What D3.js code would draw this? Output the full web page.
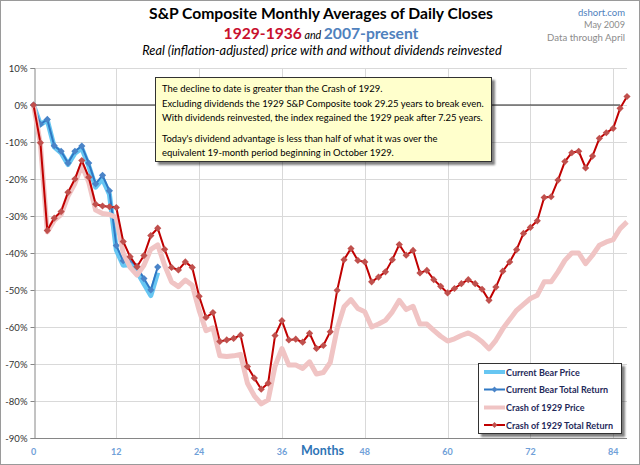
<!DOCTYPE html>
<html><head><meta charset="utf-8">
<script src="https://cdn.jsdelivr.net/npm/d3@7"></script>
<style>body{margin:0;background:#fff}svg{display:block}text{font-family:Lato,"Open Sans",sans-serif}</style>
</head><body>
<script>
// ---- data ----
const months = d3.range(0, 87);
const bearMonths = d3.range(0, 19);
const crashTotalReturn = [0,-10.2,-33.9,-30.6,-28.8,-23.6,-20.0,-15.0,-19.5,-26.8,-27.3,-27.5,-27.7,-36.9,-41.0,-43.7,-40.7,-35.3,-33.3,-39.0,-43.9,-44.6,-42.4,-43.9,-51.7,-57.4,-56.1,-63.9,-63.5,-63.1,-62.2,-70.7,-73.8,-76.8,-75.2,-62.3,-58.3,-63.5,-63.3,-64.1,-61.7,-65.8,-65.0,-61.3,-50.1,-41.8,-38.8,-42.0,-42.4,-47.8,-46.5,-45.1,-41.8,-37.7,-40.6,-39.3,-45.4,-44.7,-47.2,-49.0,-50.8,-49.6,-48.3,-47.2,-48.3,-49.8,-52.8,-49.2,-44.9,-42.4,-39.1,-34.7,-33.1,-31.3,-25.0,-24.8,-20.3,-15.3,-12.9,-12.5,-17.0,-13.8,-9.0,-7.5,-6.3,-0.9,2.3];
const crashPrice = [0,-10.5,-34.3,-31.2,-29.6,-24.6,-21.2,-16.3,-20.8,-28.4,-29.3,-29.6,-30.4,-40.0,-43.9,-46.0,-43.3,-39.0,-37.8,-43.3,-47.8,-49.1,-47.3,-48.7,-55.5,-61.0,-60.2,-67.8,-68.0,-67.8,-67.4,-75.2,-78.6,-80.8,-79.7,-70.6,-65.8,-70.3,-70.3,-71.2,-69.4,-72.7,-72.3,-69.6,-60.5,-54.5,-52.6,-55.0,-55.9,-60.0,-59.2,-58.2,-55.9,-52.8,-55.3,-54.4,-59.2,-59.2,-60.9,-62.5,-63.8,-63.2,-62.3,-61.6,-62.6,-64.0,-65.9,-63.6,-60.5,-58.0,-55.5,-53.9,-52.3,-51.4,-47.8,-47.8,-45.1,-42.0,-40.0,-40.0,-42.9,-40.6,-37.9,-37.0,-36.4,-33.4,-31.6];
const bearTotalReturn = [0,-5.2,-3.9,-11.0,-12.5,-15.7,-12.5,-11.1,-15.7,-21.3,-19.0,-23.2,-38.0,-42.1,-41.9,-43.7,-46.9,-50.0,-43.8];
const bearPrice = [0,-5.3,-4.1,-11.3,-12.9,-16.1,-13.0,-11.7,-16.4,-22.2,-20.0,-24.1,-39.2,-43.3,-43.2,-45.0,-48.3,-51.5,-45.3];
const zeroLineMonths = [0, 85];
const xTicks = [0,12,24,36,48,60,72,84];
const yTicks = [10,0,-10,-20,-30,-40,-50,-60,-70,-80,-90];
const seriesNames = ["Current Bear Price","Current Bear Total Return","Crash of 1929 Price","Crash of 1929 Total Return"];
const noteLines = [
  "The decline to date is greater than the Crash of 1929.",
  "Excluding dividends the 1929 S&P Composite took 29.25 years to break even.",
  "With dividends reinvested, the index regained the 1929 peak after 7.25 years.",
  "Today's dividend advantage is less than half of what it was over the",
  "equivalent 19-month period beginning in October 1929."
];

const W = 640, H = 465;
const svg = d3.select("body").append("svg").attr("width", W).attr("height", H);
svg.append("rect").attr("x",0.5).attr("y",0.5).attr("width",W-1).attr("height",H-1).attr("fill","#fff").attr("stroke","#9a9a9a");

const x = d3.scaleLinear().domain([0, 86]).range([33.5, 627]);
const y = d3.scaleLinear().domain([-90, 10]).range([438, 68]);

const defs = svg.append("defs");
const f = defs.append("filter").attr("id","sh").attr("x","-10%").attr("y","-10%").attr("width","130%").attr("height","140%");
f.append("feGaussianBlur").attr("in","SourceAlpha").attr("stdDeviation",1.2);
f.append("feOffset").attr("dx",3).attr("dy",3).attr("result","o");
f.append("feComponentTransfer").append("feFuncA").attr("type","linear").attr("slope",0.5);
const fm = f.append("feMerge"); fm.append("feMergeNode"); fm.append("feMergeNode").attr("in","SourceGraphic");

function fitWidth(sel, target){
  const w = sel.node().getBBox().width;
  const k = target / w;
  const fs = parseFloat(sel.attr("font-size"));
  sel.attr("font-size", fs * k);
  sel.selectAll("tspan").each(function(){ const t=d3.select(this); if(t.attr("font-size")) t.attr("font-size", parseFloat(t.attr("font-size"))*k); });
}

// ---- titles ----
const t1 = svg.append("text").attr("x",321).attr("y",19).attr("text-anchor","middle").attr("font-size",16).attr("font-weight","bold").attr("fill","#000").text("S&P Composite Monthly Averages of Daily Closes");
fitWidth(t1, 344);
const t2 = svg.append("text").attr("x",321).attr("y",39).attr("text-anchor","middle").attr("font-size",16).attr("font-weight","bold");
t2.append("tspan").attr("font-size",16).attr("fill","#c8102e").text("1929-1936");
t2.append("tspan").attr("font-size",11).attr("font-weight","normal").attr("font-style","italic").attr("fill","#000").text(" and ");
t2.append("tspan").attr("font-size",16).attr("fill","#4f81bd").text("2007-present");
fitWidth(t2, 195);
const t3 = svg.append("text").attr("x",322).attr("y",55).attr("text-anchor","middle").attr("font-size",13).attr("font-style","italic").attr("fill","#000").text("Real (inflation-adjusted) price with and without dividends reinvested");
fitWidth(t3, 360);

const r1 = svg.append("text").attr("x",625).attr("y",16).attr("text-anchor","end").attr("font-size",11).attr("fill","#4f81bd").text("dshort.com"); fitWidth(r1, 47);
const r2 = svg.append("text").attr("x",625).attr("y",28).attr("text-anchor","end").attr("font-size",11).attr("fill","#8c8c8c").text("May 2009"); fitWidth(r2, 41);
const r3 = svg.append("text").attr("x",625).attr("y",40.5).attr("text-anchor","end").attr("font-size",11).attr("fill","#8c8c8c").text("Data through April"); fitWidth(r3, 78);

// ---- grid ----
const g = svg.append("g");
g.selectAll(".hg").data(yTicks.filter(d=>d>-90)).join("line")
  .attr("x1",x(0)).attr("x2",x(86)).attr("y1",d=>Math.round(y(d))+0.5).attr("y2",d=>Math.round(y(d))+0.5)
  .attr("stroke","#d9d9d9");
g.selectAll(".vg").data(xTicks.filter(d=>d>0)).join("line")
  .attr("x1",d=>Math.round(x(d))+0.5).attr("x2",d=>Math.round(x(d))+0.5).attr("y1",y(10)).attr("y2",y(-90))
  .attr("stroke","#d9d9d9");

// axes
const ya = svg.append("g").attr("transform",`translate(${Math.round(x(0))+0.5},0)`)
  .call(d3.axisLeft(y).tickValues(yTicks).tickSize(4).tickFormat(d=>d+"%"));
ya.select(".domain").attr("stroke","#868686");
ya.selectAll(".tick line").attr("stroke","#868686");
ya.selectAll(".tick text").attr("font-size",9.5).attr("fill","#333").attr("x",-7).attr("font-family","Lato, sans-serif");
svg.append("line").attr("x1",x(0)).attr("x2",x(86)).attr("y1",Math.round(y(-90))+0.5).attr("y2",Math.round(y(-90))+0.5).attr("stroke","#868686");

svg.selectAll(".xl").data(xTicks).join("text")
  .attr("x",d=>x(d)).attr("y",455).attr("text-anchor","middle").attr("font-size",9).attr("font-weight","bold").attr("fill","#6fa0d8").text(d=>d);
svg.append("text").attr("x",301).attr("y",455).attr("font-size",12.5).attr("font-weight","bold").attr("fill","#2e75b6").text("Months");

// zero line
svg.append("line").attr("x1",x(zeroLineMonths[0])).attr("x2",x(zeroLineMonths[1])).attr("y1",y(0)).attr("y2",y(0)).attr("stroke","#222").attr("stroke-width",1);

// ---- series ----
const line = d3.line().x(d=>x(d[0])).y(d=>y(d[1]));
const bearP = bearMonths.map((m,i)=>[m,bearPrice[i]]);
const bearT = bearMonths.map((m,i)=>[m,bearTotalReturn[i]]);
const crashP = months.map((m,i)=>[m,crashPrice[i]]);
const crashT = months.map((m,i)=>[m,crashTotalReturn[i]]);
const diamond = "M0,-3.6L3.6,0L0,3.6L-3.6,0Z";

svg.append("path").datum(bearP).attr("d",line).attr("fill","none").attr("stroke","#67c6f2").attr("stroke-width",5).attr("stroke-linejoin","round");
svg.append("path").datum(bearT).attr("d",line).attr("fill","none").attr("stroke","#2f78c4").attr("stroke-width",2);
svg.selectAll(".bm").data(bearT).join("path").attr("d",diamond).attr("transform",d=>`translate(${x(d[0])},${y(d[1])})`).attr("fill","#4a84c8");
svg.append("path").datum(crashP).attr("d",line).attr("fill","none").attr("stroke","#f0c4c4").attr("stroke-width",5).attr("stroke-linejoin","round");
svg.append("path").datum(crashT).attr("d",line).attr("fill","none").attr("stroke","#c00000").attr("stroke-width",2);
svg.selectAll(".cm").data(crashT).join("path").attr("d",diamond).attr("transform",d=>`translate(${x(d[0])},${y(d[1])})`).attr("fill","#c0504d");

// ---- annotation box ----
svg.append("rect").attr("x",155.5).attr("y",77.5).attr("width",336).attr("height",84).attr("fill","#ffffcc").attr("stroke","#333").attr("filter","url(#sh)");
const noteY = [92, 107, 121, 142, 156];
const nt = svg.selectAll(".nt").data(noteLines).join("text").attr("x",162).attr("y",(d,i)=>noteY[i]).attr("font-size",11).attr("fill","#000").text(d=>d);
{
  const w = nt.nodes()[1].getBBox().width; const fs = 11*322/w;
  nt.attr("font-size", fs);
}

// ---- legend ----
svg.append("rect").attr("x",478.5).attr("y",363.5).attr("width",143).attr("height",70).attr("fill","#fff").attr("stroke","#333").attr("filter","url(#sh)");
const legY = [372, 389.5, 407.5, 425];
const legStyles = [
  {c:"#67c6f2", w:4, m:null},
  {c:"#2f78c4", w:2, m:"#4a84c8"},
  {c:"#f0c4c4", w:4, m:null},
  {c:"#c00000", w:2, m:"#c0504d"}
];
seriesNames.forEach((n,i)=>{
  const s = legStyles[i];
  svg.append("line").attr("x1",484).attr("x2",505).attr("y1",legY[i]).attr("y2",legY[i]).attr("stroke",s.c).attr("stroke-width",s.w);
  if(s.m) svg.append("path").attr("d",diamond).attr("transform",`translate(494.5,${legY[i]}) scale(0.8)`).attr("fill",s.m);
});
const lt = svg.selectAll(".lt").data(seriesNames).join("text").attr("x",506).attr("y",(d,i)=>legY[i]+3.5).attr("font-size",9.5).attr("font-weight","bold").attr("fill","#1f2a5a").text(d=>d);
{
  const w = lt.nodes()[3].getBBox().width; lt.attr("font-size", 9.5*107/w);
}
</script>
</body></html>
